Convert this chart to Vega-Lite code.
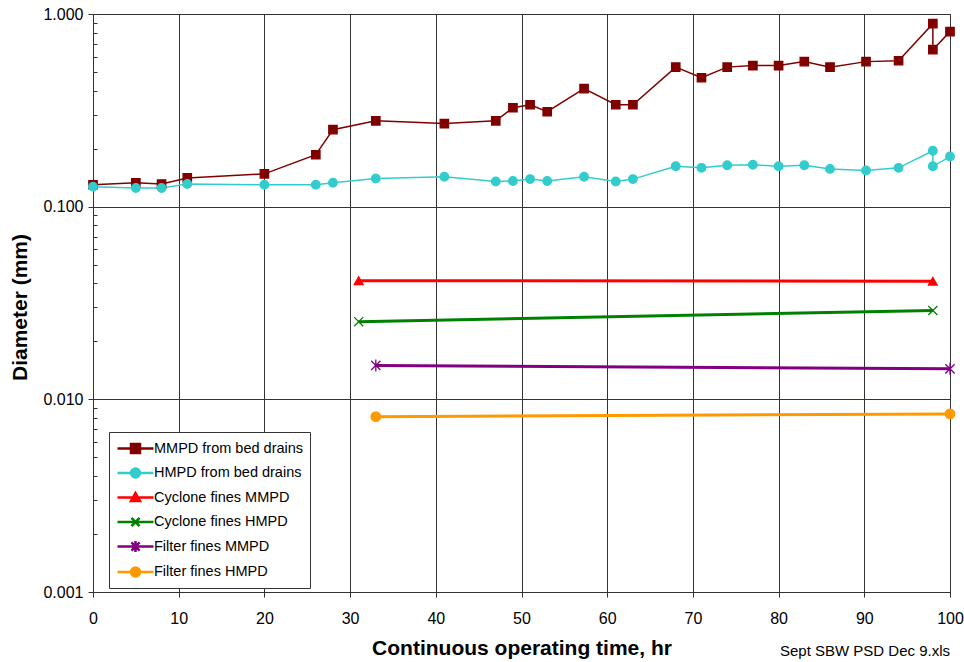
{
  "$schema": "https://vega.github.io/schema/vega-lite/v6.json",
  "width": 857,
  "height": 578,
  "autosize": "none",
  "padding": {"left": 93, "top": 14, "right": 14, "bottom": 70},
  "background": "white",
  "title": {"text": "Sept SBW PSD Dec 9.xls", "orient": "bottom", "anchor": "end", "frame": "group", "fontSize": 15, "fontWeight": "normal", "font": "Liberation Sans", "color": "black", "offset": -14},
  "datasets": {
    "d": [
      {"s": "MMPD from bed drains", "g": "bed", "t": 0, "v": 0.130, "i": 1},
      {"s": "MMPD from bed drains", "g": "bed", "t": 5, "v": 0.133, "i": 2},
      {"s": "MMPD from bed drains", "g": "bed", "t": 8, "v": 0.131, "i": 3},
      {"s": "MMPD from bed drains", "g": "bed", "t": 11, "v": 0.141, "i": 4},
      {"s": "MMPD from bed drains", "g": "bed", "t": 20, "v": 0.148, "i": 5},
      {"s": "MMPD from bed drains", "g": "bed", "t": 26, "v": 0.186, "i": 6},
      {"s": "MMPD from bed drains", "g": "bed", "t": 28, "v": 0.251, "i": 7},
      {"s": "MMPD from bed drains", "g": "bed", "t": 33, "v": 0.279, "i": 8},
      {"s": "MMPD from bed drains", "g": "bed", "t": 41, "v": 0.270, "i": 9},
      {"s": "MMPD from bed drains", "g": "bed", "t": 47, "v": 0.279, "i": 10},
      {"s": "MMPD from bed drains", "g": "bed", "t": 49, "v": 0.326, "i": 11},
      {"s": "MMPD from bed drains", "g": "bed", "t": 51, "v": 0.338, "i": 12},
      {"s": "MMPD from bed drains", "g": "bed", "t": 53, "v": 0.311, "i": 13},
      {"s": "MMPD from bed drains", "g": "bed", "t": 57.3, "v": 0.410, "i": 14},
      {"s": "MMPD from bed drains", "g": "bed", "t": 61, "v": 0.338, "i": 15},
      {"s": "MMPD from bed drains", "g": "bed", "t": 63, "v": 0.338, "i": 16},
      {"s": "MMPD from bed drains", "g": "bed", "t": 68, "v": 0.530, "i": 17},
      {"s": "MMPD from bed drains", "g": "bed", "t": 71, "v": 0.467, "i": 18},
      {"s": "MMPD from bed drains", "g": "bed", "t": 74, "v": 0.530, "i": 19},
      {"s": "MMPD from bed drains", "g": "bed", "t": 77, "v": 0.540, "i": 20},
      {"s": "MMPD from bed drains", "g": "bed", "t": 80, "v": 0.540, "i": 21},
      {"s": "MMPD from bed drains", "g": "bed", "t": 83, "v": 0.566, "i": 22},
      {"s": "MMPD from bed drains", "g": "bed", "t": 86, "v": 0.530, "i": 23},
      {"s": "MMPD from bed drains", "g": "bed", "t": 90.2, "v": 0.566, "i": 24},
      {"s": "MMPD from bed drains", "g": "bed", "t": 94, "v": 0.572, "i": 25},
      {"s": "MMPD from bed drains", "g": "bed", "t": 98, "v": 0.891, "i": 26},
      {"s": "MMPD from bed drains", "g": "bed", "t": 98, "v": 0.653, "i": 27},
      {"s": "MMPD from bed drains", "g": "bed", "t": 100, "v": 0.810, "i": 28},
      {"s": "HMPD from bed drains", "g": "bed", "t": 0, "v": 0.127, "i": 1},
      {"s": "HMPD from bed drains", "g": "bed", "t": 5, "v": 0.125, "i": 2},
      {"s": "HMPD from bed drains", "g": "bed", "t": 8, "v": 0.125, "i": 3},
      {"s": "HMPD from bed drains", "g": "bed", "t": 11, "v": 0.131, "i": 4},
      {"s": "HMPD from bed drains", "g": "bed", "t": 20, "v": 0.130, "i": 5},
      {"s": "HMPD from bed drains", "g": "bed", "t": 26, "v": 0.130, "i": 6},
      {"s": "HMPD from bed drains", "g": "bed", "t": 28, "v": 0.133, "i": 7},
      {"s": "HMPD from bed drains", "g": "bed", "t": 33, "v": 0.140, "i": 8},
      {"s": "HMPD from bed drains", "g": "bed", "t": 41, "v": 0.143, "i": 9},
      {"s": "HMPD from bed drains", "g": "bed", "t": 47, "v": 0.135, "i": 10},
      {"s": "HMPD from bed drains", "g": "bed", "t": 49, "v": 0.136, "i": 11},
      {"s": "HMPD from bed drains", "g": "bed", "t": 51, "v": 0.139, "i": 12},
      {"s": "HMPD from bed drains", "g": "bed", "t": 53, "v": 0.136, "i": 13},
      {"s": "HMPD from bed drains", "g": "bed", "t": 57.3, "v": 0.143, "i": 14},
      {"s": "HMPD from bed drains", "g": "bed", "t": 61, "v": 0.135, "i": 15},
      {"s": "HMPD from bed drains", "g": "bed", "t": 63, "v": 0.139, "i": 16},
      {"s": "HMPD from bed drains", "g": "bed", "t": 68, "v": 0.162, "i": 17},
      {"s": "HMPD from bed drains", "g": "bed", "t": 71, "v": 0.159, "i": 18},
      {"s": "HMPD from bed drains", "g": "bed", "t": 74, "v": 0.164, "i": 19},
      {"s": "HMPD from bed drains", "g": "bed", "t": 77, "v": 0.165, "i": 20},
      {"s": "HMPD from bed drains", "g": "bed", "t": 80, "v": 0.162, "i": 21},
      {"s": "HMPD from bed drains", "g": "bed", "t": 83, "v": 0.164, "i": 22},
      {"s": "HMPD from bed drains", "g": "bed", "t": 86, "v": 0.157, "i": 23},
      {"s": "HMPD from bed drains", "g": "bed", "t": 90.2, "v": 0.154, "i": 24},
      {"s": "HMPD from bed drains", "g": "bed", "t": 94, "v": 0.159, "i": 25},
      {"s": "HMPD from bed drains", "g": "bed", "t": 98, "v": 0.195, "i": 26},
      {"s": "HMPD from bed drains", "g": "bed", "t": 98, "v": 0.162, "i": 27},
      {"s": "HMPD from bed drains", "g": "bed", "t": 100, "v": 0.182, "i": 28},
      {"s": "Cyclone fines MMPD", "g": "fines", "t": 31, "v": 0.0413, "i": 1},
      {"s": "Cyclone fines MMPD", "g": "fines", "t": 98, "v": 0.0410, "i": 2},
      {"s": "Cyclone fines HMPD", "g": "fines", "t": 31, "v": 0.0253, "i": 1},
      {"s": "Cyclone fines HMPD", "g": "fines", "t": 98, "v": 0.0289, "i": 2},
      {"s": "Filter fines MMPD", "g": "fines", "t": 33, "v": 0.0150, "i": 1},
      {"s": "Filter fines MMPD", "g": "fines", "t": 100, "v": 0.0144, "i": 2},
      {"s": "Filter fines HMPD", "g": "fines", "t": 33, "v": 0.00813, "i": 1},
      {"s": "Filter fines HMPD", "g": "fines", "t": 100, "v": 0.0084, "i": 2}
    ]
  },
  "data": {"name": "d"},
  "encoding": {
    "x": {"field": "t", "type": "quantitative", "scale": {"domain": [0, 100], "nice": false, "zero": false},
      "axis": {"title": "Continuous operating time, hr", "values": [0,10,20,30,40,50,60,70,80,90,100], "grid": true, "labelFlush": false}},
    "y": {"field": "v", "type": "quantitative", "scale": {"type": "log", "domain": [0.001, 1], "nice": false},
      "axis": {"title": "Diameter (mm)", "format": ".3f", "titleX": -63, "titleY": 293,
        "values": [0.001,0.002,0.003,0.004,0.005,0.006,0.007,0.008,0.009,0.01,0.02,0.03,0.04,0.05,0.06,0.07,0.08,0.09,0.1,0.2,0.3,0.4,0.5,0.6,0.7,0.8,0.9,1],
        "labelExpr": "indexof(['0.001','0.010','0.100','1.000'], datum.label) >= 0 ? datum.label : ''",
        "gridOpacity": {"condition": {"test": "indexof([0.001,0.01,0.1,1], datum.value) >= 0", "value": 1}, "value": 0},
        "tickSize": {"condition": {"test": "indexof([0.001,0.01,0.1,1], datum.value) >= 0", "value": 5}, "value": -4},
        "grid": true, "labelFlush": false}}
  },
  "layer": [
    {
      "transform": [{"filter": {"field": "g", "equal": "bed"}}],
      "mark": {"type": "line", "strokeWidth": 1.5},
      "encoding": {
        "color": {"field": "s", "type": "nominal", "legend": null,
          "scale": {"domain": ["MMPD from bed drains","HMPD from bed drains","Cyclone fines MMPD","Cyclone fines HMPD","Filter fines MMPD","Filter fines HMPD"],
            "range": ["#800000","#33CCCC","#FF0000","#008000","#800080","#FF9900"]}},
        "order": {"field": "i", "type": "quantitative"}
      }
    },
    {
      "transform": [{"filter": {"field": "g", "equal": "fines"}}],
      "mark": {"type": "line", "strokeWidth": 3},
      "encoding": {
        "color": {"field": "s", "type": "nominal", "legend": null,
          "scale": {"domain": ["MMPD from bed drains","HMPD from bed drains","Cyclone fines MMPD","Cyclone fines HMPD","Filter fines MMPD","Filter fines HMPD"],
            "range": ["#800000","#33CCCC","#FF0000","#008000","#800080","#FF9900"]}},
        "order": {"field": "i", "type": "quantitative"}
      }
    },
    {
      "mark": {"type": "point", "filled": true, "strokeWidth": 1.3, "opacity": 1},
      "encoding": {
        "fill": {"field": "s", "type": "nominal", "legend": null,
          "scale": {"domain": ["MMPD from bed drains","HMPD from bed drains","Cyclone fines MMPD","Cyclone fines HMPD","Filter fines MMPD","Filter fines HMPD"],
            "range": ["#800000","#33CCCC","#FF0000","#008000","#800080","#FF9900"]}},
        "stroke": {"field": "s", "type": "nominal", "legend": null,
          "scale": {"domain": ["MMPD from bed drains","HMPD from bed drains","Cyclone fines MMPD","Cyclone fines HMPD","Filter fines MMPD","Filter fines HMPD"],
            "range": ["#800000","#33CCCC","#FF0000","#008000","#800080","#FF9900"]}},
        "shape": {"field": "s", "type": "nominal", "legend": null,
          "scale": {"domain": ["MMPD from bed drains","HMPD from bed drains","Cyclone fines MMPD","Cyclone fines HMPD","Filter fines MMPD","Filter fines HMPD"],
            "range": ["square","circle","triangle-up","M-1,-1L1,1M-1,1L1,-1","M-1,-1L1,1M-1,1L1,-1M0,-1.3V1.3","circle"]}},
        "size": {"field": "s", "type": "nominal", "legend": null,
          "scale": {"domain": ["MMPD from bed drains","HMPD from bed drains","Cyclone fines MMPD","Cyclone fines HMPD","Filter fines MMPD","Filter fines HMPD"],
            "range": [70,90,45,60,50,70]}}
      }
    },
    {
      "transform": [{"filter": {"field": "s", "equal": "none"}}],
      "mark": {"type": "point", "filled": true},
      "encoding": {
        "fill": {"field": "s", "type": "nominal",
          "scale": {"domain": ["MMPD from bed drains","HMPD from bed drains","Cyclone fines MMPD","Cyclone fines HMPD","Filter fines MMPD","Filter fines HMPD"],
            "range": ["#800000","#33CCCC","#FF0000","#008000","#800080","#FF9900"]}},
        "stroke": {"field": "s", "type": "nominal",
          "scale": {"domain": ["MMPD from bed drains","HMPD from bed drains","Cyclone fines MMPD","Cyclone fines HMPD","Filter fines MMPD","Filter fines HMPD"],
            "range": ["#800000","#33CCCC","#FF0000","#008000","#800080","#FF9900"]}},
        "shape": {"field": "s", "type": "nominal",
          "scale": {"domain": ["MMPD from bed drains","HMPD from bed drains","Cyclone fines MMPD","Cyclone fines HMPD","Filter fines MMPD","Filter fines HMPD"],
            "range": [
              "M-2,0H2M-0.5,-0.5H0.5V0.5H-0.5Z",
              "M-2,0H2M0.5,0A0.5,0.5 0 1,1 -0.5,0A0.5,0.5 0 1,1 0.5,0Z",
              "M-2,0H2M0,-0.5L0.5,0.4H-0.5Z",
              "M-2,0H2M-0.45,-0.45L0.45,0.45M-0.45,0.45L0.45,-0.45",
              "M-2,0H2M-0.45,-0.45L0.45,0.45M-0.45,0.45L0.45,-0.45M0,-0.6V0.6",
              "M-2,0H2M0.5,0A0.5,0.5 0 1,1 -0.5,0A0.5,0.5 0 1,1 0.5,0Z"
            ]}}
      }
    }
  ],
  "resolve": {"scale": {"fill": "independent", "stroke": "independent", "shape": "independent"}},
  "config": {
    "font": "Liberation Sans",
    "view": {"stroke": "#444", "strokeWidth": 1},
    "axis": {
      "labelFont": "Liberation Sans", "labelFontSize": 16, "labelColor": "black",
      "titleFont": "Liberation Sans", "titleFontSize": 21, "titleFontWeight": "bold", "titleColor": "black",
      "domainColor": "#333", "tickColor": "#333", "gridColor": "#333", "gridWidth": 1
    },
    "axisX": {"labelPadding": 13, "titlePadding": 11},
    "axisY": {"labelPadding": 5, "titlePadding": 10, "titleFontSize": 21},
    "legend": {
      "title": null,
      "orient": "none", "legendX": 16, "legendY": 418,
      "symbolSize": 324, "symbolOffset": 10, "labelOffset": 8,
      "symbolStrokeWidth": 2.5, "symbolOpacity": 1,
      "padding": 6, "rowPadding": 4.5,
      "labelFont": "Liberation Sans", "labelFontSize": 14.5, "labelColor": "black",
      "strokeColor": "#333", "fillColor": "white",
      "labelLimit": 300
    }
  }
}
